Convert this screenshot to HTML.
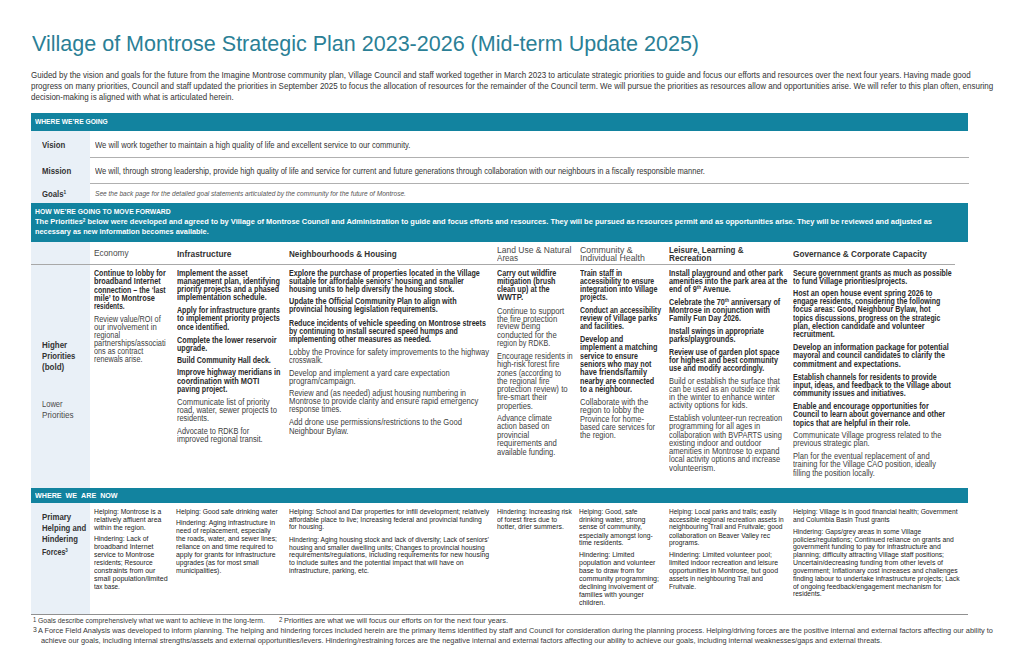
<!DOCTYPE html><html><head><meta charset="utf-8"><title>Village of Montrose Strategic Plan</title><style>
html,body{margin:0;padding:0;background:#fff}body{width:1024px;height:663px;position:relative;overflow:hidden;font-family:"Liberation Sans",sans-serif}
.t{position:absolute;white-space:nowrap;transform-origin:0 0}.t sup{font-size:62%;vertical-align:baseline;position:relative;top:-0.55em;line-height:0}
.bx{position:absolute}
.title{font-size:22.0px;line-height:22.0px;font-weight:400;color:#2b7f96;font-style:normal}
.intro{font-size:9.0px;line-height:9.0px;font-weight:400;color:#333333;font-style:normal}
.barhead{font-size:6.6px;line-height:6.6px;font-weight:700;color:#ffffff;font-style:normal}
.barhead2{font-size:7.6px;line-height:7.6px;font-weight:700;color:#ffffff;font-style:normal}
.vlabel{font-size:8.6px;line-height:8.6px;font-weight:700;color:#333333;font-style:normal}
.vtext{font-size:8.4px;line-height:8.4px;font-weight:400;color:#333333;font-style:normal}
.gtext{font-size:7.0px;line-height:7.0px;font-weight:400;color:#555555;font-style:italic}
.bartext{font-size:7.2px;line-height:7.2px;font-weight:700;color:#ffffff;font-style:normal}
.chead{font-size:8.4px;line-height:8.4px;font-weight:400;color:#4a4a4a;font-style:normal}
.cheadb{font-size:8.5px;line-height:8.5px;font-weight:700;color:#333333;font-style:normal}
.plabel{font-size:8.2px;line-height:8.2px;font-weight:700;color:#333333;font-style:normal}
.plabel2{font-size:8.2px;line-height:8.2px;font-weight:400;color:#4a4a4a;font-style:normal}
.b{font-size:8.5px;line-height:8.5px;font-weight:700;color:#2a2a2a;font-style:normal}
.r{font-size:8.5px;line-height:8.5px;font-weight:400;color:#404040;font-style:normal}
.flabel{font-size:8.4px;line-height:8.4px;font-weight:700;color:#333333;font-style:normal}
.f{font-size:8.0px;line-height:8.0px;font-weight:400;color:#222222;font-style:normal}
.fn{font-size:8.0px;line-height:8.0px;font-weight:400;color:#383838;font-style:normal}
.fnsup{font-size:7.3px;line-height:7.3px;font-weight:400;color:#383838;font-style:normal}
</style></head><body>
<div class="bx" style="left:31px;top:113px;width:937px;height:18px;background:#12839f"></div>
<div class="bx" style="left:31px;top:131px;width:59px;height:72px;background:#e9f0f7"></div>
<div class="bx" style="left:31px;top:203px;width:937px;height:39px;background:#12839f"></div>
<div class="bx" style="left:31px;top:242px;width:59px;height:245.5px;background:#e9f0f7"></div>
<div class="bx" style="left:31px;top:487.5px;width:937px;height:15.5px;background:#12839f"></div>
<div class="bx" style="left:31px;top:503px;width:59px;height:110.79999999999995px;background:#e9f0f7"></div>
<div class="bx" style="left:90px;top:157.00px;width:879px;height:1px;background:#b0b0b0"></div>
<div class="bx" style="left:90px;top:183.00px;width:879px;height:1px;background:#b0b0b0"></div>
<div class="bx" style="left:31px;top:263.50px;width:924px;height:1px;background:#a8a8a8"></div>
<div class="bx" style="left:31px;top:614.00px;width:937px;height:1px;background:#909090"></div>
<div id="l0" class="t title" style="left:31.5px;top:33.00px;transform:scaleX(0.9781)">Village of Montrose Strategic Plan 2023-2026 (Mid-term Update 2025)</div>
<div id="l1" class="t intro" style="left:31.3px;top:71.00px;transform:scaleX(0.8881)">Guided by the vision and goals for the future from the Imagine Montrose community plan, Village Council and staff worked together in March 2023 to articulate strategic priorities to guide and focus our efforts and resources over the next four years. Having made good</div>
<div id="l2" class="t intro" style="left:31.3px;top:82.00px;transform:scaleX(0.8876)">progress on many priorities, Council and staff updated the priorities in September 2025 to focus the allocation of resources for the remainder of the Council term. We will pursue the priorities as resources allow and opportunities arise. We will refer to this plan often, ensuring</div>
<div id="l3" class="t intro" style="left:31.3px;top:93.00px;transform:scaleX(0.8866)">decision-making is aligned with what is articulated herein.</div>
<div id="l4" class="t barhead" style="left:35.3px;top:119.00px;transform:scaleX(1.0124)">WHERE WE&#8217;RE GOING</div>
<div id="l5" class="t vlabel" style="left:41.8px;top:141.00px;transform:scaleX(0.9048)">Vision</div>
<div id="l6" class="t vlabel" style="left:41.8px;top:167.00px;transform:scaleX(0.9125)">Mission</div>
<div id="l7" class="t vlabel" style="left:41.8px;top:190.00px;transform:scaleX(0.9010)">Goals<sup>1</sup></div>
<div id="l8" class="t vtext" style="left:94.6px;top:141.00px;transform:scaleX(0.9127)">We will work together to maintain a high quality of life and excellent service to our community.</div>
<div id="l9" class="t vtext" style="left:94.6px;top:167.00px;transform:scaleX(0.9050)">We will, through strong leadership, provide high quality of life and service for current and future generations through collaboration with our neighbours in a fiscally responsible manner.</div>
<div id="l10" class="t gtext" style="left:94.6px;top:190.00px;transform:scaleX(0.9378)">See the back page for the detailed goal statements articulated by the community for the future of Montrose.</div>
<div id="l11" class="t barhead" style="left:34.9px;top:209.00px;transform:scaleX(1.0337)">HOW WE&#8217;RE GOING TO MOVE FORWARD</div>
<div id="l12" class="t bartext" style="left:35px;top:218.00px;transform:scaleX(1.0406)">The Priorities<sup>2</sup> below were developed and agreed to by Village of Montrose Council and Administration to guide and focus efforts and resources. They will be pursued as resources permit and as opportunities arise. They will be reviewed and adjusted as</div>
<div id="l13" class="t bartext" style="left:35px;top:228.00px;transform:scaleX(1.0206)">necessary as new information becomes available.</div>
<div id="l14" class="t chead" style="left:94px;top:249.00px;transform:scaleX(0.9908)">Economy</div>
<div id="l15" class="t cheadb" style="left:176.5px;top:250.00px;transform:scaleX(0.9861)">Infrastructure</div>
<div id="l16" class="t cheadb" style="left:289.4px;top:250.00px;transform:scaleX(0.9552)">Neighbourhoods &amp; Housing</div>
<div id="l17" class="t chead" style="left:496.8px;top:246.00px;transform:scaleX(1.0165)">Land Use &amp; Natural</div>
<div id="l18" class="t chead" style="left:496.8px;top:254.00px;transform:scaleX(0.9639)">Areas</div>
<div id="l19" class="t chead" style="left:579.6px;top:246.00px;transform:scaleX(1.0484)">Community &amp;</div>
<div id="l20" class="t chead" style="left:579.6px;top:254.00px;transform:scaleX(1.0465)">Individual Health</div>
<div id="l21" class="t cheadb" style="left:668.6px;top:246.00px;transform:scaleX(0.9375)">Leisure, Learning &amp;</div>
<div id="l22" class="t cheadb" style="left:668.6px;top:254.00px;transform:scaleX(0.9650)">Recreation</div>
<div id="l23" class="t cheadb" style="left:793.2px;top:250.00px;transform:scaleX(0.9667)">Governance &amp; Corporate Capacity</div>
<div id="l24" class="t plabel" style="left:41.8px;top:342.00px;transform:scaleX(0.9716)">Higher</div>
<div id="l25" class="t plabel" style="left:41.8px;top:353.00px;transform:scaleX(0.9408)">Priorities</div>
<div id="l26" class="t plabel" style="left:41.8px;top:364.00px;transform:scaleX(0.9765)">(bold)</div>
<div id="l27" class="t plabel2" style="left:41.8px;top:401.00px;transform:scaleX(0.9232)">Lower</div>
<div id="l28" class="t plabel2" style="left:41.8px;top:412.00px;transform:scaleX(0.9919)">Priorities</div>
<div id="l29" class="t b" style="left:94.3px;top:269.00px;transform:scaleX(0.8343)">Continue to lobby for</div>
<div id="l30" class="t b" style="left:94.3px;top:277.00px;transform:scaleX(0.8612)">broadband Internet</div>
<div id="l31" class="t b" style="left:94.3px;top:286.00px;transform:scaleX(0.8250)">connection &#8211; the &#8216;last</div>
<div id="l32" class="t b" style="left:94.3px;top:294.00px;transform:scaleX(0.8726)">mile&#8217; to Montrose</div>
<div id="l33" class="t b" style="left:94.3px;top:302.00px;transform:scaleX(0.7620)">residents.</div>
<div id="l34" class="t r" style="left:94.3px;top:315.00px;transform:scaleX(0.8608)">Review value/ROI of</div>
<div id="l35" class="t r" style="left:94.3px;top:323.00px;transform:scaleX(0.9089)">our involvement in</div>
<div id="l36" class="t r" style="left:94.3px;top:331.00px;transform:scaleX(0.8628)">regional</div>
<div id="l37" class="t r" style="left:94.3px;top:339.00px;transform:scaleX(0.8721)">partnerships/associati</div>
<div id="l38" class="t r" style="left:94.3px;top:347.00px;transform:scaleX(0.8553)">ons as contract</div>
<div id="l39" class="t r" style="left:94.3px;top:355.00px;transform:scaleX(0.8483)">renewals arise.</div>
<div id="l40" class="t b" style="left:176.6px;top:269.00px;transform:scaleX(0.8638)">Implement the asset</div>
<div id="l41" class="t b" style="left:176.6px;top:277.00px;transform:scaleX(0.8577)">management plan, identifying</div>
<div id="l42" class="t b" style="left:176.6px;top:285.00px;transform:scaleX(0.8411)">priority projects and a phased</div>
<div id="l43" class="t b" style="left:176.6px;top:293.00px;transform:scaleX(0.8593)">implementation schedule.</div>
<div id="l44" class="t b" style="left:176.6px;top:306.00px;transform:scaleX(0.8347)">Apply for infrastructure grants</div>
<div id="l45" class="t b" style="left:176.6px;top:314.00px;transform:scaleX(0.8577)">to implement priority projects</div>
<div id="l46" class="t b" style="left:176.6px;top:323.00px;transform:scaleX(0.8389)">once identified.</div>
<div id="l47" class="t b" style="left:176.6px;top:336.00px;transform:scaleX(0.8501)">Complete the lower reservoir</div>
<div id="l48" class="t b" style="left:176.6px;top:344.00px;transform:scaleX(0.8411)">upgrade.</div>
<div id="l49" class="t b" style="left:176.6px;top:356.00px;transform:scaleX(0.8345)">Build Community Hall deck.</div>
<div id="l50" class="t b" style="left:176.6px;top:368.00px;transform:scaleX(0.8484)">Improve highway meridians in</div>
<div id="l51" class="t b" style="left:176.6px;top:377.00px;transform:scaleX(0.8715)">coordination with MOTI</div>
<div id="l52" class="t b" style="left:176.6px;top:385.00px;transform:scaleX(0.8335)">paving project.</div>
<div id="l53" class="t r" style="left:176.6px;top:398.00px;transform:scaleX(0.9023)">Communicate list of priority</div>
<div id="l54" class="t r" style="left:176.6px;top:406.00px;transform:scaleX(0.9006)">road, water, sewer projects to</div>
<div id="l55" class="t r" style="left:176.6px;top:414.00px;transform:scaleX(0.8709)">residents.</div>
<div id="l56" class="t r" style="left:176.6px;top:427.00px;transform:scaleX(0.8670)">Advocate to RDKB for</div>
<div id="l57" class="t r" style="left:176.6px;top:435.00px;transform:scaleX(0.8980)">improved regional transit.</div>
<div id="l58" class="t b" style="left:289.1px;top:269.00px;transform:scaleX(0.8386)">Explore the purchase of properties located in the Village</div>
<div id="l59" class="t b" style="left:289.1px;top:277.00px;transform:scaleX(0.8377)">suitable for affordable seniors&#8217; housing and smaller</div>
<div id="l60" class="t b" style="left:289.1px;top:285.00px;transform:scaleX(0.8225)">housing units to help diversify the housing stock.</div>
<div id="l61" class="t b" style="left:289.1px;top:297.00px;transform:scaleX(0.8531)">Update the Official Community Plan to align with</div>
<div id="l62" class="t b" style="left:289.1px;top:305.00px;transform:scaleX(0.8328)">provincial housing legislation requirements.</div>
<div id="l63" class="t b" style="left:289.1px;top:319.00px;transform:scaleX(0.8370)">Reduce incidents of vehicle speeding on Montrose streets</div>
<div id="l64" class="t b" style="left:289.1px;top:327.00px;transform:scaleX(0.8331)">by continuing to install secured speed humps and</div>
<div id="l65" class="t b" style="left:289.1px;top:335.00px;transform:scaleX(0.8497)">implementing other measures as needed.</div>
<div id="l66" class="t r" style="left:289.1px;top:348.00px;transform:scaleX(0.8968)">Lobby the Province for safety improvements to the highway</div>
<div id="l67" class="t r" style="left:289.1px;top:356.00px;transform:scaleX(0.8542)">crosswalk.</div>
<div id="l68" class="t r" style="left:289.1px;top:369.00px;transform:scaleX(0.8921)">Develop and implement a yard care expectation</div>
<div id="l69" class="t r" style="left:289.1px;top:377.00px;transform:scaleX(0.9108)">program/campaign.</div>
<div id="l70" class="t r" style="left:289.1px;top:389.00px;transform:scaleX(0.8814)">Review and (as needed) adjust housing numbering in</div>
<div id="l71" class="t r" style="left:289.1px;top:397.00px;transform:scaleX(0.9004)">Montrose to provide clarity and ensure rapid emergency</div>
<div id="l72" class="t r" style="left:289.1px;top:405.00px;transform:scaleX(0.8717)">response times.</div>
<div id="l73" class="t r" style="left:289.1px;top:418.00px;transform:scaleX(0.8947)">Add drone use permissions/restrictions to the Good</div>
<div id="l74" class="t r" style="left:289.1px;top:427.00px;transform:scaleX(0.8994)">Neighbour Bylaw.</div>
<div id="l75" class="t b" style="left:496.8px;top:269.00px;transform:scaleX(0.8483)">Carry out wildfire</div>
<div id="l76" class="t b" style="left:496.8px;top:277.00px;transform:scaleX(0.8427)">mitigation (brush</div>
<div id="l77" class="t b" style="left:496.8px;top:285.00px;transform:scaleX(0.8421)">clean up) at the</div>
<div id="l78" class="t b" style="left:496.8px;top:293.00px;transform:scaleX(0.9259)">WWTP.</div>
<div id="l79" class="t r" style="left:496.8px;top:307.00px;transform:scaleX(0.9056)">Continue to support</div>
<div id="l80" class="t r" style="left:496.8px;top:315.00px;transform:scaleX(0.9180)">the fire protection</div>
<div id="l81" class="t r" style="left:496.8px;top:322.00px;transform:scaleX(0.9050)">review being</div>
<div id="l82" class="t r" style="left:496.8px;top:331.00px;transform:scaleX(0.9088)">conducted for the</div>
<div id="l83" class="t r" style="left:496.8px;top:339.00px;transform:scaleX(0.8403)">region by RDKB.</div>
<div id="l84" class="t r" style="left:496.8px;top:352.00px;transform:scaleX(0.8706)">Encourage residents in</div>
<div id="l85" class="t r" style="left:496.8px;top:360.00px;transform:scaleX(0.8924)">high-risk forest fire</div>
<div id="l86" class="t r" style="left:496.8px;top:369.00px;transform:scaleX(0.8640)">zones (according to</div>
<div id="l87" class="t r" style="left:496.8px;top:377.00px;transform:scaleX(0.8960)">the regional fire</div>
<div id="l88" class="t r" style="left:496.8px;top:385.00px;transform:scaleX(0.9236)">protection review) to</div>
<div id="l89" class="t r" style="left:496.8px;top:393.00px;transform:scaleX(0.9125)">fire-smart their</div>
<div id="l90" class="t r" style="left:496.8px;top:402.00px;transform:scaleX(0.8937)">properties.</div>
<div id="l91" class="t r" style="left:496.8px;top:414.00px;transform:scaleX(0.8818)">Advance climate</div>
<div id="l92" class="t r" style="left:496.8px;top:422.00px;transform:scaleX(0.8745)">action based on</div>
<div id="l93" class="t r" style="left:496.8px;top:431.00px;transform:scaleX(0.8940)">provincial</div>
<div id="l94" class="t r" style="left:496.8px;top:439.00px;transform:scaleX(0.9054)">requirements and</div>
<div id="l95" class="t r" style="left:496.8px;top:448.00px;transform:scaleX(0.8810)">available funding.</div>
<div id="l96" class="t b" style="left:579.7px;top:269.00px;transform:scaleX(0.8349)">Train staff in</div>
<div id="l97" class="t b" style="left:579.7px;top:277.00px;transform:scaleX(0.8137)">accessibility to ensure</div>
<div id="l98" class="t b" style="left:579.7px;top:285.00px;transform:scaleX(0.8473)">integration into Village</div>
<div id="l99" class="t b" style="left:579.7px;top:293.00px;transform:scaleX(0.7760)">projects.</div>
<div id="l100" class="t b" style="left:579.7px;top:306.00px;transform:scaleX(0.8127)">Conduct an accessibility</div>
<div id="l101" class="t b" style="left:579.7px;top:314.00px;transform:scaleX(0.8437)">review of Village parks</div>
<div id="l102" class="t b" style="left:579.7px;top:322.00px;transform:scaleX(0.8169)">and facilities.</div>
<div id="l103" class="t b" style="left:579.7px;top:335.00px;transform:scaleX(0.8566)">Develop and</div>
<div id="l104" class="t b" style="left:579.7px;top:343.00px;transform:scaleX(0.8635)">implement a matching</div>
<div id="l105" class="t b" style="left:579.7px;top:352.00px;transform:scaleX(0.8279)">service to ensure</div>
<div id="l106" class="t b" style="left:579.7px;top:360.00px;transform:scaleX(0.8457)">seniors who may not</div>
<div id="l107" class="t b" style="left:579.7px;top:368.00px;transform:scaleX(0.8700)">have friends/family</div>
<div id="l108" class="t b" style="left:579.7px;top:377.00px;transform:scaleX(0.8444)">nearby are connected</div>
<div id="l109" class="t b" style="left:579.7px;top:385.00px;transform:scaleX(0.8519)">to a neighbour.</div>
<div id="l110" class="t r" style="left:579.7px;top:398.00px;transform:scaleX(0.9076)">Collaborate with the</div>
<div id="l111" class="t r" style="left:579.7px;top:406.00px;transform:scaleX(0.9149)">region to lobby the</div>
<div id="l112" class="t r" style="left:579.7px;top:415.00px;transform:scaleX(0.8912)">Province for home-</div>
<div id="l113" class="t r" style="left:579.7px;top:423.00px;transform:scaleX(0.8535)">based care services for</div>
<div id="l114" class="t r" style="left:579.7px;top:431.00px;transform:scaleX(0.8912)">the region.</div>
<div id="l115" class="t b" style="left:668.8px;top:269.00px;transform:scaleX(0.8462)">Install playground and other park</div>
<div id="l116" class="t b" style="left:668.8px;top:277.00px;transform:scaleX(0.8613)">amenities into the park area at the</div>
<div id="l117" class="t b" style="left:668.8px;top:285.00px;transform:scaleX(0.8539)">end of 9<sup>th</sup> Avenue.</div>
<div id="l118" class="t b" style="left:668.8px;top:298.00px;transform:scaleX(0.8479)">Celebrate the 70<sup>th</sup> anniversary of</div>
<div id="l119" class="t b" style="left:668.8px;top:306.00px;transform:scaleX(0.8556)">Montrose in conjunction with</div>
<div id="l120" class="t b" style="left:668.8px;top:314.00px;transform:scaleX(0.8317)">Family Fun Day 2026.</div>
<div id="l121" class="t b" style="left:668.8px;top:327.00px;transform:scaleX(0.8277)">Install swings in appropriate</div>
<div id="l122" class="t b" style="left:668.8px;top:335.00px;transform:scaleX(0.8467)">parks/playgrounds.</div>
<div id="l123" class="t b" style="left:668.8px;top:348.00px;transform:scaleX(0.8384)">Review use of garden plot space</div>
<div id="l124" class="t b" style="left:668.8px;top:356.00px;transform:scaleX(0.8446)">for highest and best community</div>
<div id="l125" class="t b" style="left:668.8px;top:364.00px;transform:scaleX(0.8339)">use and modify accordingly.</div>
<div id="l126" class="t r" style="left:668.8px;top:377.00px;transform:scaleX(0.8816)">Build or establish the surface that</div>
<div id="l127" class="t r" style="left:668.8px;top:385.00px;transform:scaleX(0.8597)">can be used as an outside ice rink</div>
<div id="l128" class="t r" style="left:668.8px;top:393.00px;transform:scaleX(0.9185)">in the winter to enhance winter</div>
<div id="l129" class="t r" style="left:668.8px;top:401.00px;transform:scaleX(0.8933)">activity options for kids.</div>
<div id="l130" class="t r" style="left:668.8px;top:414.00px;transform:scaleX(0.8907)">Establish volunteer-run recreation</div>
<div id="l131" class="t r" style="left:668.8px;top:422.00px;transform:scaleX(0.8854)">programming for all ages in</div>
<div id="l132" class="t r" style="left:668.8px;top:431.00px;transform:scaleX(0.8702)">collaboration with BVPARTS using</div>
<div id="l133" class="t r" style="left:668.8px;top:439.00px;transform:scaleX(0.8991)">existing indoor and outdoor</div>
<div id="l134" class="t r" style="left:668.8px;top:447.00px;transform:scaleX(0.8994)">amenities in Montrose to expand</div>
<div id="l135" class="t r" style="left:668.8px;top:455.00px;transform:scaleX(0.8782)">local activity options and increase</div>
<div id="l136" class="t r" style="left:668.8px;top:464.00px;transform:scaleX(0.9197)">volunteerism.</div>
<div id="l137" class="t b" style="left:793.4px;top:269.00px;transform:scaleX(0.8213)">Secure government grants as much as possible</div>
<div id="l138" class="t b" style="left:793.4px;top:277.00px;transform:scaleX(0.8464)">to fund Village priorities/projects.</div>
<div id="l139" class="t b" style="left:793.4px;top:289.00px;transform:scaleX(0.8408)">Host an open house event spring 2026 to</div>
<div id="l140" class="t b" style="left:793.4px;top:297.00px;transform:scaleX(0.8294)">engage residents, considering the following</div>
<div id="l141" class="t b" style="left:793.4px;top:305.00px;transform:scaleX(0.8388)">focus areas: Good Neighbour Bylaw, hot</div>
<div id="l142" class="t b" style="left:793.4px;top:314.00px;transform:scaleX(0.8037)">topics discussions, progress on the strategic</div>
<div id="l143" class="t b" style="left:793.4px;top:322.00px;transform:scaleX(0.8514)">plan, election candidate and volunteer</div>
<div id="l144" class="t b" style="left:793.4px;top:330.00px;transform:scaleX(0.8509)">recruitment.</div>
<div id="l145" class="t b" style="left:793.4px;top:343.00px;transform:scaleX(0.8540)">Develop an information package for potential</div>
<div id="l146" class="t b" style="left:793.4px;top:351.00px;transform:scaleX(0.8353)">mayoral and council candidates to clarify the</div>
<div id="l147" class="t b" style="left:793.4px;top:360.00px;transform:scaleX(0.8637)">commitment and expectations.</div>
<div id="l148" class="t b" style="left:793.4px;top:373.00px;transform:scaleX(0.8245)">Establish channels for residents to provide</div>
<div id="l149" class="t b" style="left:793.4px;top:381.00px;transform:scaleX(0.8443)">input, ideas, and feedback to the Village about</div>
<div id="l150" class="t b" style="left:793.4px;top:389.00px;transform:scaleX(0.8305)">community issues and initiatives.</div>
<div id="l151" class="t b" style="left:793.4px;top:402.00px;transform:scaleX(0.8432)">Enable and encourage opportunities for</div>
<div id="l152" class="t b" style="left:793.4px;top:410.00px;transform:scaleX(0.8408)">Council to learn about governance and other</div>
<div id="l153" class="t b" style="left:793.4px;top:419.00px;transform:scaleX(0.8419)">topics that are helpful in their role.</div>
<div id="l154" class="t r" style="left:793.4px;top:431.00px;transform:scaleX(0.8862)">Communicate Village progress related to the</div>
<div id="l155" class="t r" style="left:793.4px;top:439.00px;transform:scaleX(0.8774)">previous strategic plan.</div>
<div id="l156" class="t r" style="left:793.4px;top:452.00px;transform:scaleX(0.8928)">Plan for the eventual replacement of and</div>
<div id="l157" class="t r" style="left:793.4px;top:460.00px;transform:scaleX(0.8755)">training for the Village CAO position, ideally</div>
<div id="l158" class="t r" style="left:793.4px;top:469.00px;transform:scaleX(0.8803)">filling the position locally.</div>
<div id="l159" class="t barhead2" style="left:34.7px;top:492.00px;transform:scaleX(0.9413)">WHERE &nbsp;WE &nbsp;ARE &nbsp;NOW</div>
<div id="l160" class="t flabel" style="left:41.8px;top:513.00px;transform:scaleX(0.9358)">Primary</div>
<div id="l161" class="t flabel" style="left:41.8px;top:524.00px;transform:scaleX(0.9220)">Helping and</div>
<div id="l162" class="t flabel" style="left:41.8px;top:535.00px;transform:scaleX(0.9183)">Hindering</div>
<div id="l163" class="t flabel" style="left:41.8px;top:548.00px;transform:scaleX(0.8498)">Forces<sup>3</sup></div>
<div id="l164" class="t f" style="left:93.6px;top:508.00px;transform:scaleX(0.8455)">Helping: Montrose is a</div>
<div id="l165" class="t f" style="left:93.6px;top:516.00px;transform:scaleX(0.8614)">relatively affluent area</div>
<div id="l166" class="t f" style="left:93.6px;top:524.00px;transform:scaleX(0.8548)">within the region.</div>
<div id="l167" class="t f" style="left:93.6px;top:535.00px;transform:scaleX(0.8421)">Hindering: Lack of</div>
<div id="l168" class="t f" style="left:93.6px;top:543.00px;transform:scaleX(0.8801)">broadband Internet</div>
<div id="l169" class="t f" style="left:93.6px;top:551.00px;transform:scaleX(0.8637)">service to Montrose</div>
<div id="l170" class="t f" style="left:93.6px;top:559.00px;transform:scaleX(0.8249)">residents; Resource</div>
<div id="l171" class="t f" style="left:93.6px;top:567.00px;transform:scaleX(0.8670)">constraints from our</div>
<div id="l172" class="t f" style="left:93.6px;top:575.00px;transform:scaleX(0.8863)">small population/limited</div>
<div id="l173" class="t f" style="left:93.6px;top:583.00px;transform:scaleX(0.7977)">tax base.</div>
<div id="l174" class="t f" style="left:176.4px;top:508.00px;transform:scaleX(0.8439)">Helping: Good safe drinking water</div>
<div id="l175" class="t f" style="left:176.4px;top:519.00px;transform:scaleX(0.8539)">Hindering: Aging infrastructure in</div>
<div id="l176" class="t f" style="left:176.4px;top:527.00px;transform:scaleX(0.8399)">need of replacement, especially</div>
<div id="l177" class="t f" style="left:176.4px;top:535.00px;transform:scaleX(0.8466)">the roads, water, and sewer lines;</div>
<div id="l178" class="t f" style="left:176.4px;top:543.00px;transform:scaleX(0.8621)">reliance on and time required to</div>
<div id="l179" class="t f" style="left:176.4px;top:551.00px;transform:scaleX(0.8615)">apply for grants for infrastructure</div>
<div id="l180" class="t f" style="left:176.4px;top:559.00px;transform:scaleX(0.8389)">upgrades (as for most small</div>
<div id="l181" class="t f" style="left:176.4px;top:567.00px;transform:scaleX(0.8562)">municipalities).</div>
<div id="l182" class="t f" style="left:289.4px;top:508.00px;transform:scaleX(0.8474)">Helping: School and Dar properties for infill development; relatively</div>
<div id="l183" class="t f" style="left:289.4px;top:516.00px;transform:scaleX(0.8456)">affordable place to live; Increasing federal and provincial funding</div>
<div id="l184" class="t f" style="left:289.4px;top:523.00px;transform:scaleX(0.8395)">for housing.</div>
<div id="l185" class="t f" style="left:289.4px;top:536.00px;transform:scaleX(0.8256)">Hindering: Aging housing stock and lack of diversity; Lack of seniors&#8217;</div>
<div id="l186" class="t f" style="left:289.4px;top:544.00px;transform:scaleX(0.8382)">housing and smaller dwelling units; Changes to provincial housing</div>
<div id="l187" class="t f" style="left:289.4px;top:551.00px;transform:scaleX(0.8637)">requirements/regulations, including requirements for new housing</div>
<div id="l188" class="t f" style="left:289.4px;top:559.00px;transform:scaleX(0.8554)">to include suites and the potential impact that will have on</div>
<div id="l189" class="t f" style="left:289.4px;top:567.00px;transform:scaleX(0.8446)">infrastructure, parking, etc.</div>
<div id="l190" class="t f" style="left:496.8px;top:508.00px;transform:scaleX(0.8276)">Hindering: Increasing risk</div>
<div id="l191" class="t f" style="left:496.8px;top:516.00px;transform:scaleX(0.8500)">of forest fires due to</div>
<div id="l192" class="t f" style="left:496.8px;top:523.00px;transform:scaleX(0.8585)">hotter, drier summers.</div>
<div id="l193" class="t f" style="left:579.4px;top:508.00px;transform:scaleX(0.8258)">Helping: Good, safe</div>
<div id="l194" class="t f" style="left:579.4px;top:516.00px;transform:scaleX(0.8745)">drinking water, strong</div>
<div id="l195" class="t f" style="left:579.4px;top:523.00px;transform:scaleX(0.8642)">sense of community,</div>
<div id="l196" class="t f" style="left:579.4px;top:532.00px;transform:scaleX(0.8371)">especially amongst long-</div>
<div id="l197" class="t f" style="left:579.4px;top:539.00px;transform:scaleX(0.8553)">time residents.</div>
<div id="l198" class="t f" style="left:579.4px;top:551.00px;transform:scaleX(0.8576)">Hindering: Limited</div>
<div id="l199" class="t f" style="left:579.4px;top:559.00px;transform:scaleX(0.8719)">population and volunteer</div>
<div id="l200" class="t f" style="left:579.4px;top:567.00px;transform:scaleX(0.8625)">base to draw from for</div>
<div id="l201" class="t f" style="left:579.4px;top:575.00px;transform:scaleX(0.8864)">community programming;</div>
<div id="l202" class="t f" style="left:579.4px;top:583.00px;transform:scaleX(0.8689)">declining involvement of</div>
<div id="l203" class="t f" style="left:579.4px;top:591.00px;transform:scaleX(0.8661)">families with younger</div>
<div id="l204" class="t f" style="left:579.4px;top:599.00px;transform:scaleX(0.8628)">children.</div>
<div id="l205" class="t f" style="left:668.8px;top:508.00px;transform:scaleX(0.8132)">Helping: Local parks and trails; easily</div>
<div id="l206" class="t f" style="left:668.8px;top:516.00px;transform:scaleX(0.8207)">accessible regional recreation assets in</div>
<div id="l207" class="t f" style="left:668.8px;top:523.00px;transform:scaleX(0.8450)">neighbouring Trail and Fruitvale; good</div>
<div id="l208" class="t f" style="left:668.8px;top:532.00px;transform:scaleX(0.8368)">collaboration on Beaver Valley rec</div>
<div id="l209" class="t f" style="left:668.8px;top:539.00px;transform:scaleX(0.8441)">programs.</div>
<div id="l210" class="t f" style="left:668.8px;top:551.00px;transform:scaleX(0.8633)">Hindering: Limited volunteer pool;</div>
<div id="l211" class="t f" style="left:668.8px;top:559.00px;transform:scaleX(0.8601)">limited indoor recreation and leisure</div>
<div id="l212" class="t f" style="left:668.8px;top:567.00px;transform:scaleX(0.8691)">opportunities in Montrose, but good</div>
<div id="l213" class="t f" style="left:668.8px;top:575.00px;transform:scaleX(0.8312)">assets in neighbouring Trail and</div>
<div id="l214" class="t f" style="left:668.8px;top:583.00px;transform:scaleX(0.8205)">Fruitvale.</div>
<div id="l215" class="t f" style="left:793.3px;top:508.00px;transform:scaleX(0.8399)">Helping: Village is in good financial health; Government</div>
<div id="l216" class="t f" style="left:793.3px;top:516.00px;transform:scaleX(0.8332)">and Columbia Basin Trust grants</div>
<div id="l217" class="t f" style="left:793.3px;top:528.00px;transform:scaleX(0.8310)">Hindering: Gaps/grey areas in some Village</div>
<div id="l218" class="t f" style="left:793.3px;top:536.00px;transform:scaleX(0.8443)">policies/regulations; Continued reliance on grants and</div>
<div id="l219" class="t f" style="left:793.3px;top:543.00px;transform:scaleX(0.8655)">government funding to pay for infrastructure and</div>
<div id="l220" class="t f" style="left:793.3px;top:551.00px;transform:scaleX(0.8488)">planning; difficulty attracting Village staff positions;</div>
<div id="l221" class="t f" style="left:793.3px;top:559.00px;transform:scaleX(0.8604)">Uncertain/decreasing funding from other levels of</div>
<div id="l222" class="t f" style="left:793.3px;top:567.00px;transform:scaleX(0.8431)">government; Inflationary cost increases and challenges</div>
<div id="l223" class="t f" style="left:793.3px;top:575.00px;transform:scaleX(0.8539)">finding labour to undertake infrastructure projects; Lack</div>
<div id="l224" class="t f" style="left:793.3px;top:583.00px;transform:scaleX(0.8544)">of ongoing feedback/engagement mechanism for</div>
<div id="l225" class="t f" style="left:793.3px;top:590.00px;transform:scaleX(0.8245)">residents.</div>
<div id="l226" class="t fn" style="left:38.2px;top:617.00px;transform:scaleX(0.8557)">Goals describe comprehensively what we want to achieve in the long-term.</div>
<div id="l227" class="t fn" style="left:38.2px;top:627.00px;transform:scaleX(0.9183)">A Force Field Analysis was developed to inform planning. The helping and hindering forces included herein are the primary items identified by staff and Council for consideration during the planning process. Helping/driving forces are the positive internal and external factors affecting our ability to</div>
<div id="l228" class="t fn" style="left:284px;top:617.00px;transform:scaleX(0.9232)">Priorities are what we will focus our efforts on for the next four years.</div>
<div id="l229" class="t fn" style="left:40.9px;top:637.00px;transform:scaleX(0.9178)">achieve our goals, including internal strengths/assets and external opportunities/levers. Hindering/restraining forces are the negative internal and external factors affecting our ability to achieve our goals, including internal weaknesses/gaps and external threats.</div>
<div id="l230" class="t fnsup" style="left:33px;top:616.00px;transform:scaleX(0.7877)">1</div>
<div id="l231" class="t fnsup" style="left:33px;top:626.00px;transform:scaleX(0.9354)">3</div>
<div id="l232" class="t fnsup" style="left:279.2px;top:616.00px;transform:scaleX(0.8369)">2</div>
</body></html>
